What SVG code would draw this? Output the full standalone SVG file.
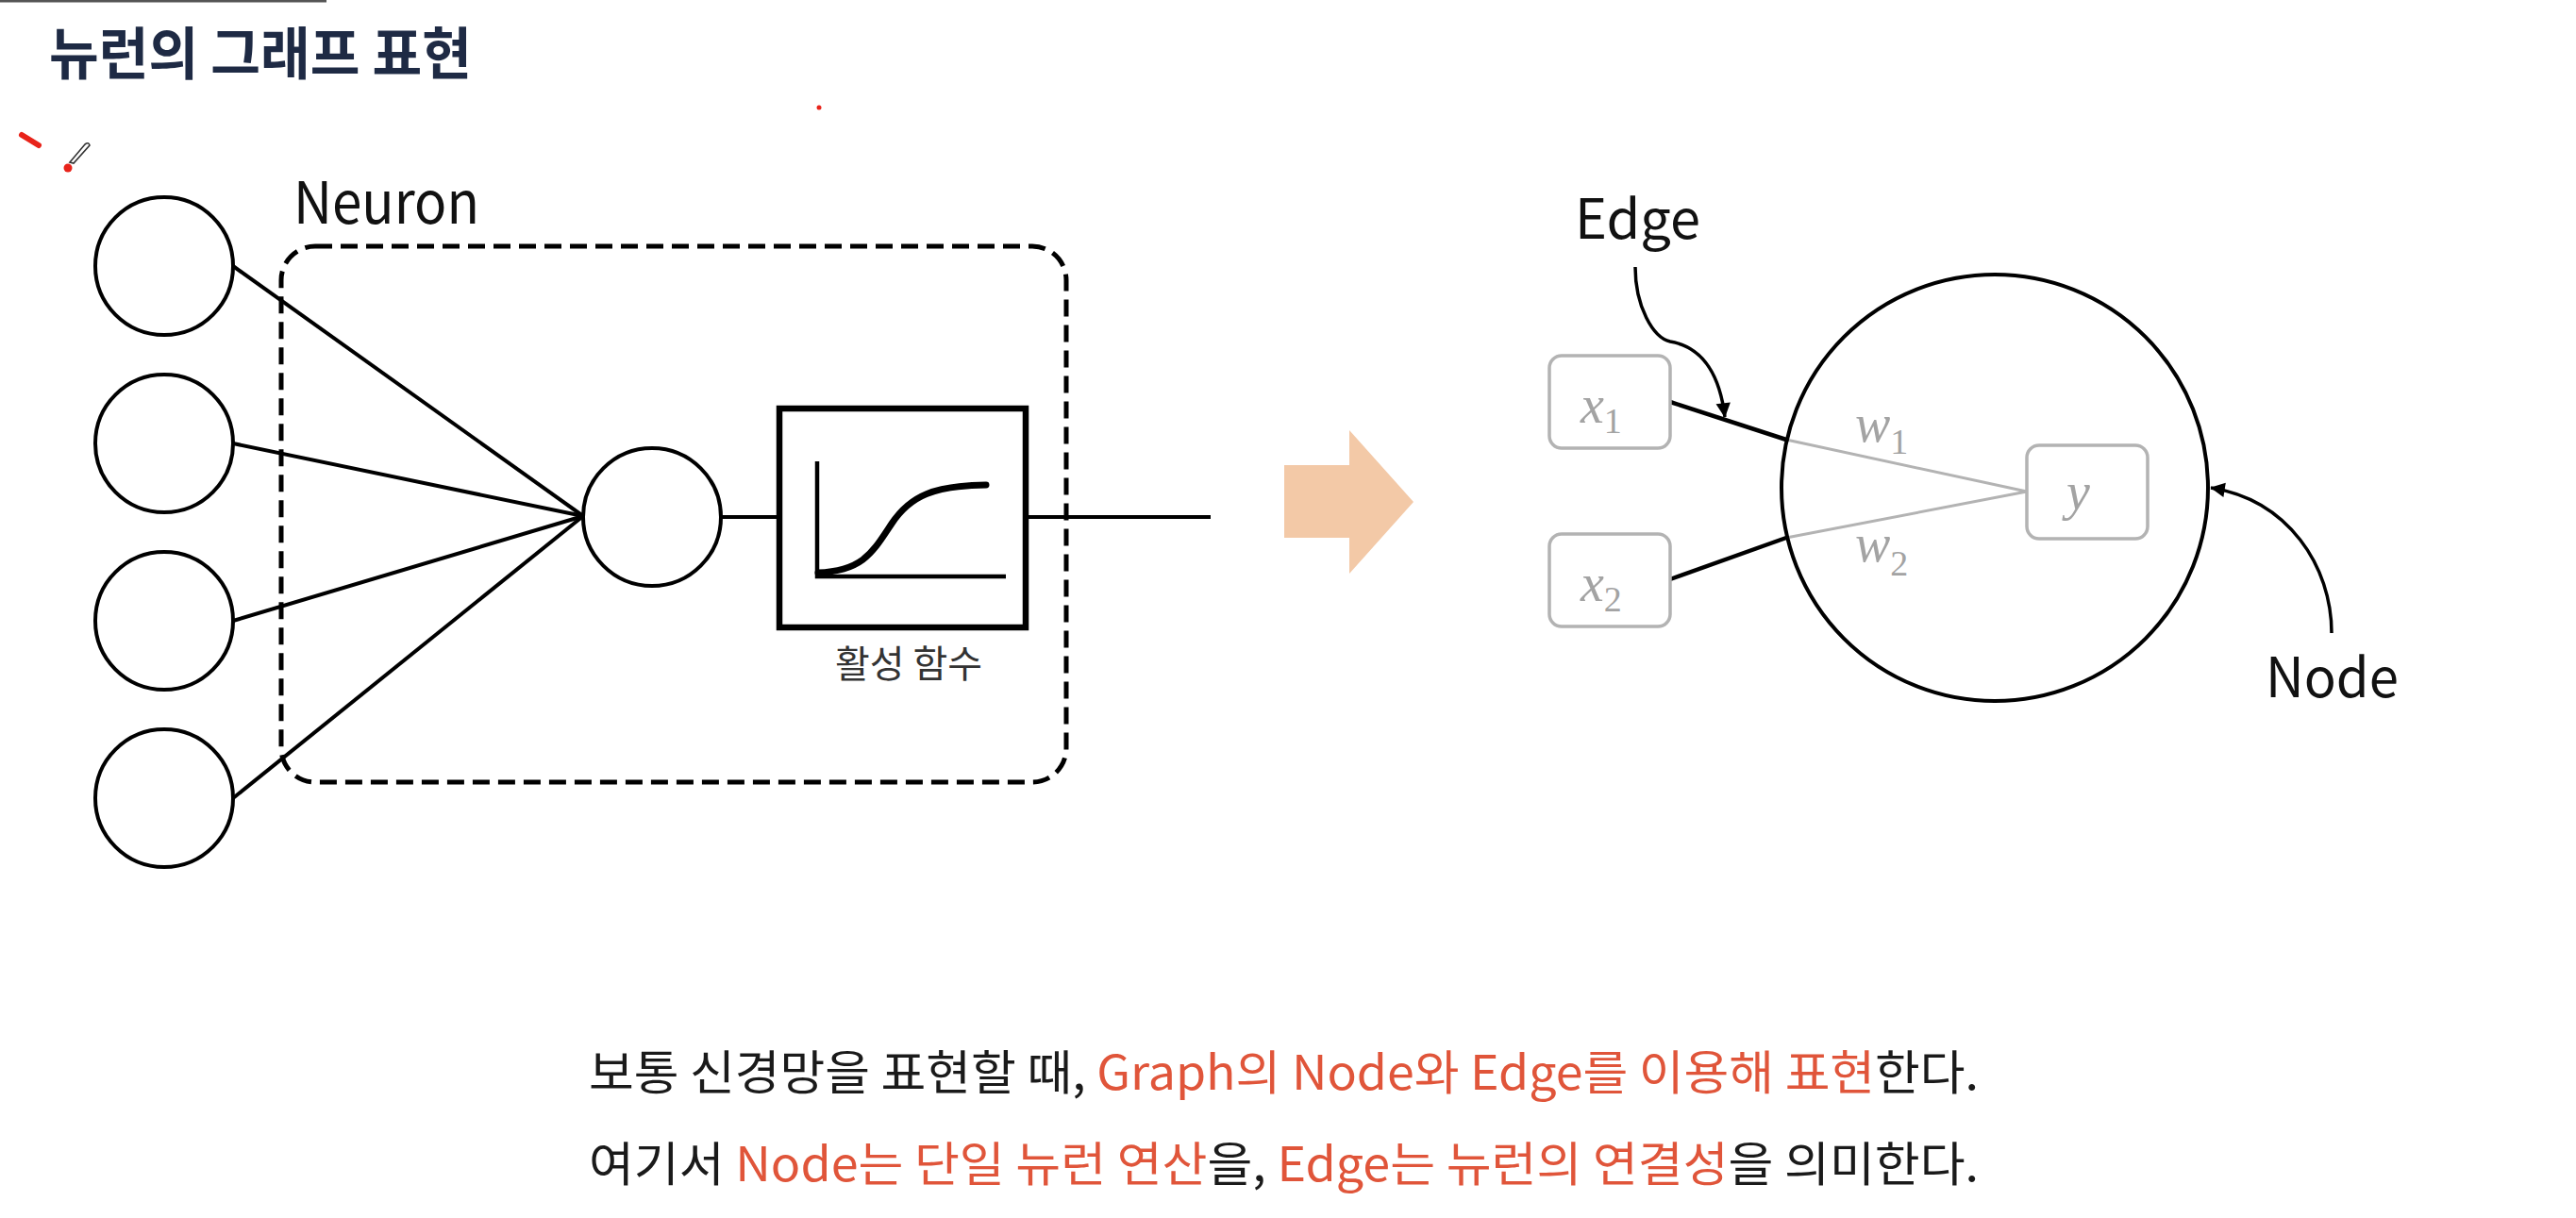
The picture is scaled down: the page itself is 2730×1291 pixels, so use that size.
<svg xmlns="http://www.w3.org/2000/svg" width="2730" height="1291" viewBox="0 0 2730 1291">
<defs>
<marker id="ah" viewBox="0 0 10 10" refX="9" refY="5" markerWidth="7" markerHeight="7" markerUnits="userSpaceOnUse" orient="auto" style="overflow:visible">
<path d="M0,0 L10,5 L0,10 z" fill="#000" transform="scale(2.2) translate(-5.5,-2.7)"/>
</marker>
<style>
.ko{font-family:"Noto Sans CJK KR","Noto Sans",sans-serif;}
.lbl{font-family:"Noto Sans CJK KR","Noto Sans",sans-serif;fill:#111;}
.c{fill:#fff;stroke:#000;stroke-width:4;}
.ln{stroke:#000;stroke-width:4;fill:none;}
.gbox{fill:#fff;stroke:#b3b3b3;stroke-width:3.5;}
.m{font-family:"Liberation Serif","DejaVu Serif",serif;fill:#a3a3a3;}
.red{fill:#e0553a;}
</style>
</defs>
<rect width="2730" height="1291" fill="#fff"/>
<line x1="0" y1="1" x2="346" y2="1" stroke="#555" stroke-width="3"/>
<text class="ko" x="52" y="79" font-size="60" font-weight="bold" fill="#1e2a44" textLength="448" lengthAdjust="spacingAndGlyphs">뉴런의 그래프 표현</text>
<g id="annotations">
<line x1="23" y1="143" x2="41" y2="154" stroke="#e8231a" stroke-width="6" stroke-linecap="round"/>
<circle cx="72" cy="178" r="4.5" fill="#e8231a"/>
<path d="M74,172 L90,153 Q94,150 95,154 L78,173 Z" fill="#fff" stroke="#333" stroke-width="1.6"/>
<circle cx="868" cy="114" r="2.5" fill="#e8231a"/>
</g>
<g id="connectors">
<line class="ln" x1="247" y1="282" x2="618" y2="547"/>
<line class="ln" x1="247" y1="470" x2="618" y2="547"/>
<line class="ln" x1="247" y1="658" x2="618" y2="547"/>
<line class="ln" x1="247" y1="846" x2="618" y2="547"/>
<line class="ln" x1="765" y1="548" x2="826" y2="548"/>
<line class="ln" x1="1087" y1="548" x2="1283" y2="548"/>
<polyline points="1770,426 1893,466" fill="none" stroke="#000" stroke-width="4.5"/>
<polyline points="1893,466 2148,521" fill="none" stroke="#b3b3b3" stroke-width="3"/>
<polyline points="1770,614 1893,570" fill="none" stroke="#000" stroke-width="4.5"/>
<polyline points="1893,570 2148,521" fill="none" stroke="#b3b3b3" stroke-width="3"/>
<path d="M1733,283 C1733,325 1752,358 1770,362 C1806,368 1823,400 1828,442" fill="none" stroke="#000" stroke-width="3.5" marker-end="url(#ah)"/>
<path d="M2471,671 C2471,600 2425,530 2343,517" fill="none" stroke="#000" stroke-width="3.5" marker-end="url(#ah)"/>
</g>
<g id="neuron-group">
<rect x="298" y="261" width="832" height="568" rx="36" fill="none" stroke="#000" stroke-width="5" stroke-dasharray="18 9"/>
<text class="lbl" x="311" y="237" font-size="62" textLength="197" lengthAdjust="spacingAndGlyphs">Neuron</text>
</g>
<g id="input1"><circle class="c" cx="174" cy="282" r="73"/></g>
<g id="input2"><circle class="c" cx="174" cy="470" r="73"/></g>
<g id="input3"><circle class="c" cx="174" cy="658" r="73"/></g>
<g id="input4"><circle class="c" cx="174" cy="846" r="73"/></g>
<g id="sum"><circle class="c" cx="691" cy="548" r="73"/></g>
<g id="activation">
<rect x="826" y="433" width="261" height="232" fill="#fff" stroke="#000" stroke-width="6.5"/>
<polyline points="866,489 866,611 1066,611" fill="none" stroke="#000" stroke-width="4.5"/>
<path d="M867,607 C915,605 925,585 945,555 C965,525 990,515 1045,514" fill="none" stroke="#000" stroke-width="7" stroke-linecap="round"/>
<text class="ko" x="963" y="718" font-size="40" fill="#333" text-anchor="middle">활성 함수</text>
</g>
<g id="big-arrow">
<polygon points="1361,493 1430,493 1430,456 1498,532 1430,608 1430,570 1361,570" fill="#f3c9a7"/>
</g>
<g id="node">
<circle cx="2114" cy="517" r="226" fill="none" stroke="#000" stroke-width="4"/>
</g>
<g id="x1">
<rect class="gbox" x="1642" y="377" width="128" height="98" rx="13"/>
<text class="m" x="1675" y="448" font-size="56" font-style="italic">x<tspan font-size="38" font-style="normal" dy="11">1</tspan></text>
</g>
<g id="x2">
<rect class="gbox" x="1642" y="566" width="128" height="98" rx="13"/>
<text class="m" x="1675" y="637" font-size="56" font-style="italic">x<tspan font-size="38" font-style="normal" dy="11">2</tspan></text>
</g>
<g id="y">
<rect class="gbox" x="2148" y="472" width="128" height="99" rx="13"/>
<text class="m" x="2190" y="540" font-size="56" font-style="italic">y</text>
</g>
<g id="weights">
<text class="m" x="1966" y="468" font-size="56" font-style="italic">w<tspan font-size="38" font-style="normal" dy="13">1</tspan></text>
<text class="m" x="1966" y="595" font-size="56" font-style="italic">w<tspan font-size="38" font-style="normal" dy="15">2</tspan></text>
</g>
<g id="labels">
<text class="lbl" x="1669" y="253" font-size="58" textLength="133" lengthAdjust="spacingAndGlyphs">Edge</text>
<text class="lbl" x="2401" y="739" font-size="58" textLength="141" lengthAdjust="spacingAndGlyphs">Node</text>
</g>
<g id="caption">
<text class="ko" x="624" y="1155" font-size="50" fill="#1a1a1a" textLength="1473" lengthAdjust="spacingAndGlyphs">보통 신경망을 표현할 때, <tspan class="red">Graph의 Node와 Edge를 이용해 표현</tspan>한다.</text>
<text class="ko" x="624" y="1252" font-size="50" fill="#1a1a1a" textLength="1473" lengthAdjust="spacingAndGlyphs">여기서 <tspan class="red">Node는 단일 뉴런 연산</tspan>을, <tspan class="red">Edge는 뉴런의 연결성</tspan>을 의미한다.</text>
</g>
</svg>
